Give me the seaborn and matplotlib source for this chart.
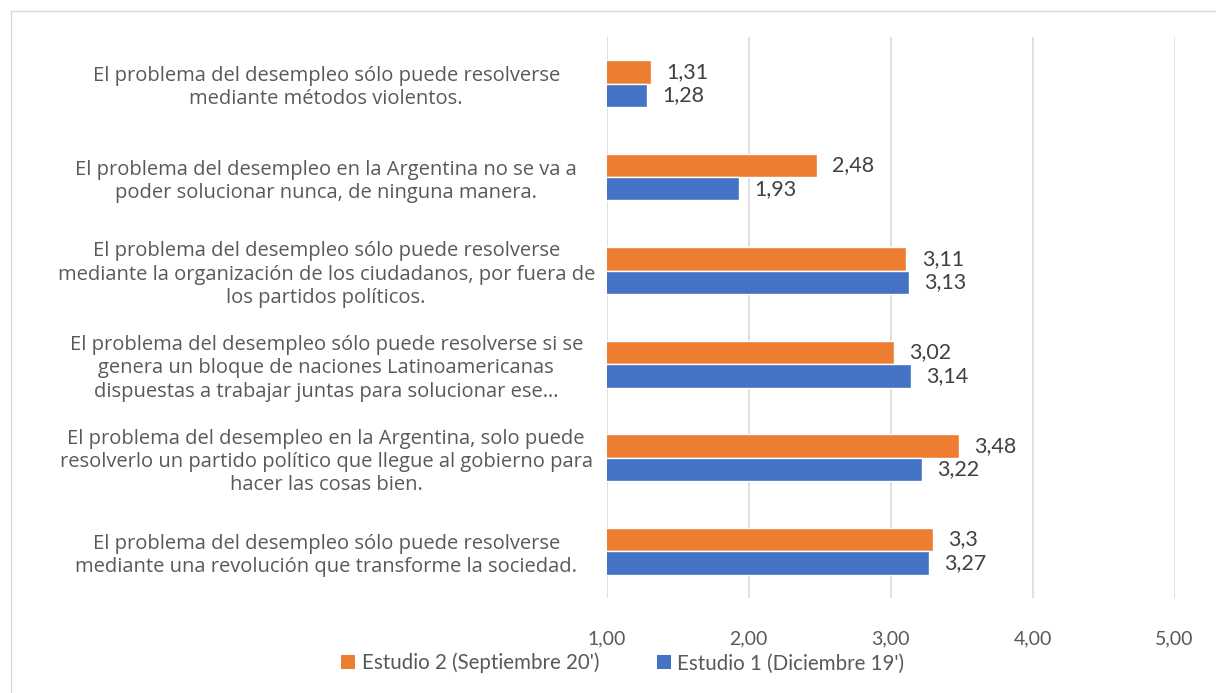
import numpy as np
import pandas as pd
import matplotlib
matplotlib.use('Agg')
import matplotlib.pyplot as plt
import seaborn as sns
from matplotlib.lines import Line2D
from matplotlib.patches import Patch

categories = [
    'El problema del desempleo sólo puede resolverse\nmediante métodos violentos.',
    'El problema del desempleo en la Argentina no se va a\npoder solucionar nunca, de ninguna manera.',
    'El problema del desempleo sólo puede resolverse\nmediante la organización de los ciudadanos, por fuera de\nlos partidos políticos.',
    'El problema del desempleo sólo puede resolverse si se\ngenera un bloque de naciones Latinoamericanas\ndispuestas a trabajar juntas para solucionar ese…',
    'El problema del desempleo en la Argentina, solo puede\nresolverlo un partido político que llegue al gobierno para\nhacer las cosas bien.',
    'El problema del desempleo sólo puede resolverse\nmediante una revolución que transforme la sociedad.',
]
series_names = ["Estudio 2 (Septiembre 20')", "Estudio 1 (Diciembre 19')"]
estudio2 = [1.31, 2.48, 3.11, 3.02, 3.48, 3.30]
estudio1 = [1.28, 1.93, 3.13, 3.14, 3.22, 3.27]
x_ticks = [1, 2, 3, 4, 5]

colors = ['#ED7D31', '#4472C4']
grey = '#595959'

df = pd.DataFrame({
    'cat': categories * 2,
    'serie': [series_names[0]] * 6 + [series_names[1]] * 6,
    'valor': estudio2 + estudio1,
})

sns.set_style('white')
plt.rcParams['font.family'] = ['Lato', 'DejaVu Sans']

fig = plt.figure(figsize=(12.16, 6.93), dpi=100)
ax = fig.add_axes([0.499, 0.137, 0.467, 0.81])

sns.barplot(data=df, y='cat', x='valor', hue='serie', hue_order=series_names,
            palette=colors, orient='h', width=0.5, ax=ax, legend=False,
            saturation=1, errorbar=None)

ax.set_xlim(1, 5)
ax.set_xticks(x_ticks)
ax.set_xticklabels([('%.2f' % t).replace('.', ',') for t in x_ticks])
ax.grid(axis='x', color='#D9D9D9', linewidth=1.2)
ax.set_axisbelow(True)
for s in ax.spines.values():
    s.set_visible(False)
ax.set_xlabel('')
ax.set_ylabel('')
ax.tick_params(axis='x', length=0, pad=23, labelsize=14, labelcolor=grey)
ax.tick_params(axis='y', length=0, pad=202, labelcolor=grey)
for lab in ax.get_yticklabels():
    lab.set_horizontalalignment('center')
    lab.set_multialignment('center')
    lab.set_fontfamily(['Open Sans', 'DejaVu Sans'])
    lab.set_fontsize(14.5)
    lab.set_linespacing(1.22)

for cont in ax.containers:
    labels = [('%g' % b.get_width()).replace('.', ',') for b in cont]
    ax.bar_label(cont, labels=labels, padding=11, fontsize=15.5, color='#404040')

handles = [Patch(facecolor=c, edgecolor='none') for c in colors]
fig.legend(handles, series_names, loc='center', bbox_to_anchor=(0.512, 0.043),
           ncol=2, frameon=False, fontsize=14.8, handlelength=0.7, handleheight=0.7,
           handletextpad=0.3, columnspacing=2.8, labelcolor=grey)

# chart area border
fig.add_artist(Line2D([11 / 1216, 1], [1 - 11 / 693, 1 - 11 / 693], color='#D9D9D9', linewidth=1))
fig.add_artist(Line2D([11 / 1216, 11 / 1216], [0, 1 - 11 / 693], color='#D9D9D9', linewidth=1))

fig.savefig('out.png', dpi=100)
